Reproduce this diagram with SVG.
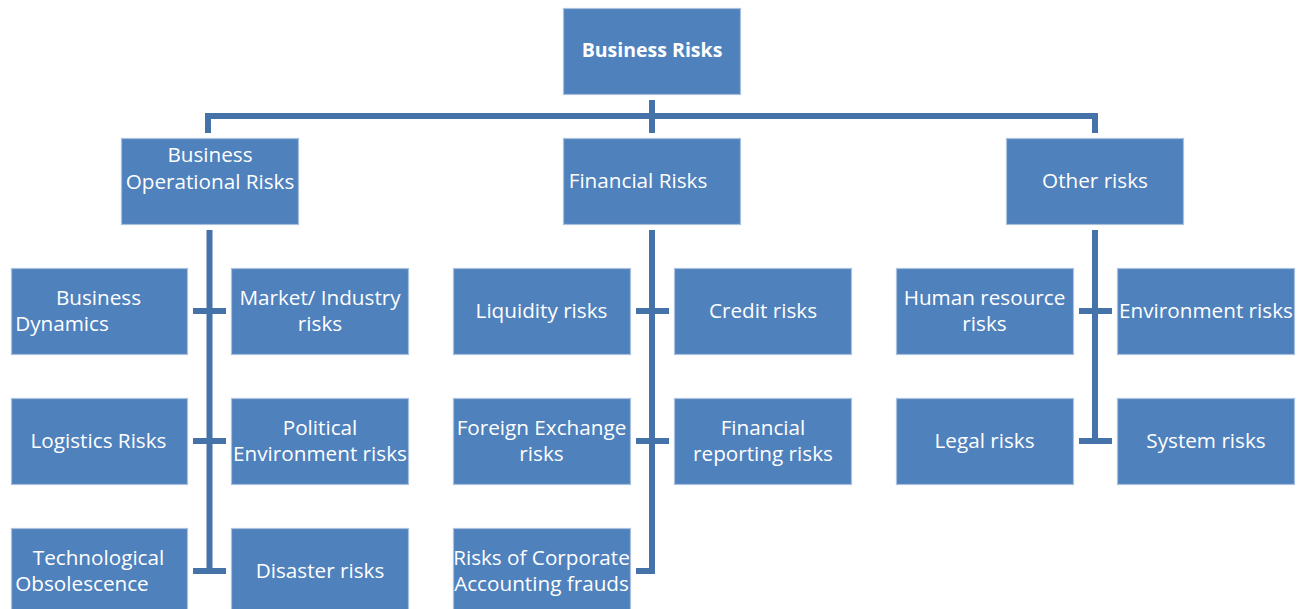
<svg xmlns="http://www.w3.org/2000/svg" width="1304" height="609" viewBox="0 0 1304 609">
<style>
.box{fill:#4F81BD;stroke:#A9C0DF;stroke-width:1.2}
.t{font-family:"Open Sans","Liberation Sans",sans-serif;font-size:20.7px;fill:#FFFFFF;text-anchor:middle}
.b{font-weight:bold;font-size:19.5px}
.c{fill:none;stroke:#4672AA;stroke-width:6;stroke-linecap:butt;stroke-linejoin:miter}
</style>
<rect width="1304" height="609" fill="#FFFFFF"/>
<g id="connectors">
<path class="c" d="M652 100V133M208 133V116H1095V133"/>
<path class="c" d="M209.5 230V571M193 311H226M193 441H226M193 571H226"/>
<path class="c" d="M652 230V571H636M636 311H669M636 441H669"/>
<path class="c" d="M1095 230V441M1079 311H1112M1079 441H1112"/>
</g>
<g id="n-business-risks"><rect class="box" x="563.5" y="8.5" width="177" height="86"/><text class="t b" x="652" y="57">Business Risks</text></g>
<g id="n-operational"><rect class="box" x="121.5" y="138.5" width="177" height="86"/><text class="t" x="210" y="162">Business</text><text class="t" x="210" y="189">Operational Risks</text></g>
<g id="n-financial"><rect class="box" x="563.5" y="138.5" width="177" height="86"/><text class="t" x="638" y="188">Financial Risks</text></g>
<g id="n-other"><rect class="box" x="1006.5" y="138.5" width="177" height="86"/><text class="t" x="1095" y="188">Other risks</text></g>
<g id="n-dynamics"><rect class="box" x="11.5" y="268.5" width="176" height="86"/><text class="t" x="98.5" y="305">Business</text><text class="t" x="62" y="331">Dynamics</text></g>
<g id="n-market"><rect class="box" x="231.5" y="268.5" width="177" height="86"/><text class="t" x="320" y="305">Market/ Industry</text><text class="t" x="320" y="331">risks</text></g>
<g id="n-logistics"><rect class="box" x="11.5" y="398.5" width="176" height="86"/><text class="t" x="98.5" y="448">Logistics Risks</text></g>
<g id="n-political"><rect class="box" x="231.5" y="398.5" width="177" height="86"/><text class="t" x="320" y="435">Political</text><text class="t" x="320" y="461">Environment risks</text></g>
<g id="n-technological"><rect class="box" x="11.5" y="528.5" width="176" height="86"/><text class="t" x="98.5" y="565">Technological</text><text class="t" x="82" y="591">Obsolescence</text></g>
<g id="n-disaster"><rect class="box" x="231.5" y="528.5" width="177" height="86"/><text class="t" x="320" y="578">Disaster risks</text></g>
<g id="n-liquidity"><rect class="box" x="453.5" y="268.5" width="177" height="86"/><text class="t" x="541.5" y="318">Liquidity risks</text></g>
<g id="n-credit"><rect class="box" x="674.5" y="268.5" width="177" height="86"/><text class="t" x="763" y="318">Credit risks</text></g>
<g id="n-forex"><rect class="box" x="453.5" y="398.5" width="177" height="86"/><text class="t" x="541.5" y="435">Foreign Exchange</text><text class="t" x="541.5" y="461">risks</text></g>
<g id="n-reporting"><rect class="box" x="674.5" y="398.5" width="177" height="86"/><text class="t" x="763" y="435">Financial</text><text class="t" x="763" y="461">reporting risks</text></g>
<g id="n-frauds"><rect class="box" x="453.5" y="528.5" width="177" height="86"/><text class="t" x="541.5" y="565">Risks of Corporate</text><text class="t" x="541.5" y="591">Accounting frauds</text></g>
<g id="n-human"><rect class="box" x="896.5" y="268.5" width="177" height="86"/><text class="t" x="984.5" y="305">Human resource</text><text class="t" x="984.5" y="331">risks</text></g>
<g id="n-environment"><rect class="box" x="1117.5" y="268.5" width="177" height="86"/><text class="t" x="1206" y="318">Environment risks</text></g>
<g id="n-legal"><rect class="box" x="896.5" y="398.5" width="177" height="86"/><text class="t" x="984.5" y="448">Legal risks</text></g>
<g id="n-system"><rect class="box" x="1117.5" y="398.5" width="177" height="86"/><text class="t" x="1206" y="448">System risks</text></g>
</svg>
